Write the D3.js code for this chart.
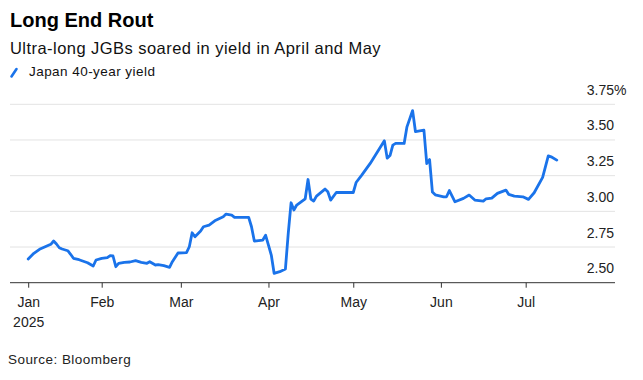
<!DOCTYPE html>
<html>
<head>
<meta charset="utf-8">
<script src="https://cdn.jsdelivr.net/npm/d3@7"></script>
<style>
  html, body { margin: 0; padding: 0; background: #fff; }
  svg { display: block; font-family: "Liberation Sans", Arial, sans-serif; }
</style>
</head>
<body>
<svg id="chart" width="643" height="380"></svg>
<script>
// ---- Data ----
const dates = [
  "2025-01-06","2025-01-08","2025-01-10","2025-01-12","2025-01-14","2025-01-15","2025-01-16","2025-01-17",
  "2025-01-18","2025-01-20","2025-01-21","2025-01-22","2025-01-24","2025-01-25","2025-01-27","2025-01-29",
  "2025-01-30","2025-02-01","2025-02-03","2025-02-04","2025-02-05","2025-02-06","2025-02-07","2025-02-09",
  "2025-02-11","2025-02-13","2025-02-15","2025-02-17","2025-02-18","2025-02-20","2025-02-21","2025-02-23",
  "2025-02-25","2025-02-26","2025-02-28","2025-03-03","2025-03-04","2025-03-05","2025-03-06","2025-03-08",
  "2025-03-09","2025-03-11","2025-03-13","2025-03-16","2025-03-17","2025-03-19","2025-03-20","2025-03-25",
  "2025-03-26","2025-03-27","2025-03-30","2025-03-31","2025-04-01","2025-04-02","2025-04-03","2025-04-05",
  "2025-04-07","2025-04-08","2025-04-09","2025-04-10","2025-04-11","2025-04-14","2025-04-15","2025-04-16",
  "2025-04-17","2025-04-18","2025-04-21","2025-04-22","2025-04-23","2025-04-25","2025-05-01","2025-05-02",
  "2025-05-04","2025-05-07","2025-05-12","2025-05-13","2025-05-14","2025-05-15","2025-05-16","2025-05-19",
  "2025-05-20","2025-05-22","2025-05-23","2025-05-26","2025-05-27","2025-05-28","2025-05-29","2025-05-30",
  "2025-06-02","2025-06-03","2025-06-04","2025-06-06","2025-06-09","2025-06-11","2025-06-13","2025-06-16",
  "2025-06-17","2025-06-19","2025-06-21","2025-06-24","2025-06-25","2025-06-27","2025-06-30","2025-07-02",
  "2025-07-04","2025-07-07","2025-07-09","2025-07-10","2025-07-12"
];
const yields = [
  2.666,2.706,2.734,2.752,2.769,2.792,2.771,2.745,
  2.736,2.724,2.699,2.671,2.661,2.654,2.640,2.617,
  2.659,2.671,2.675,2.689,2.687,2.612,2.636,2.643,
  2.645,2.654,2.643,2.636,2.647,2.624,2.626,2.619,
  2.608,2.647,2.708,2.711,2.752,2.850,2.822,2.862,
  2.892,2.904,2.934,2.962,2.981,2.974,2.958,2.958,
  2.892,2.792,2.799,2.832,2.764,2.694,2.566,2.577,
  2.596,2.846,3.060,3.009,3.044,3.088,3.223,3.086,
  3.072,3.107,3.156,3.137,3.079,3.132,3.132,3.202,
  3.254,3.336,3.494,3.373,3.391,3.464,3.476,3.476,
  3.592,3.706,3.559,3.569,3.335,3.363,3.135,3.116,
  3.102,3.102,3.146,3.067,3.091,3.114,3.079,3.072,
  3.088,3.093,3.126,3.149,3.119,3.107,3.102,3.084,
  3.130,3.238,3.389,3.382,3.359
];
const yTicks = [2.50, 2.75, 3.00, 3.25, 3.50, 3.75];
const xTickDates = ["2025-01-06","2025-02-01","2025-03-01","2025-04-01","2025-05-01","2025-06-01","2025-07-01"];
const xTickLabels = ["Jan","Feb","Mar","Apr","May","Jun","Jul"];
const xDomain = ["2025-01-01","2025-08-01"];
const seriesName = "Japan 40-year yield";
const title = "Long End Rout";
const subtitle = "Ultra-long JGBs soared in yield in April and May";
const source = "Source: Bloomberg";

// ---- Chart ----
const parse = d3.timeParse("%Y-%m-%d");
const data = dates.map((d, i) => ({ date: parse(d), value: yields[i] }));

const svg = d3.select("#chart");
const BLUE = "#1a73ea";
const plotLeft = 10, plotRight = 615;

const x = d3.scaleTime().domain(xDomain.map(parse)).range([14.07, 613.3]);
const y = d3.scaleLinear().domain([2.5, 3.75]).range([282.7, 104.3]);

// Title, subtitle
svg.append("text").attr("x", 10).attr("y", 27)
  .attr("font-size", 20).attr("font-weight", "bold").attr("fill", "#000").text(title);
svg.append("text").attr("x", 10).attr("y", 53.5)
  .attr("font-size", 16.5).attr("letter-spacing", 0.45).attr("fill", "#111").text(subtitle);

// Legend
svg.append("line").attr("x1", 11.5).attr("y1", 76.5).attr("x2", 16.5).attr("y2", 69)
  .attr("stroke", BLUE).attr("stroke-width", 2.6).attr("stroke-linecap", "round");
svg.append("text").attr("x", 29).attr("y", 76)
  .attr("font-size", 13.5).attr("letter-spacing", 0.45).attr("fill", "#111").text(seriesName);

// Gridlines
const grid = svg.append("g");
grid.selectAll("line").data(yTicks.filter(t => t > 2.5)).join("line")
  .attr("x1", plotLeft).attr("x2", plotRight)
  .attr("y1", d => y(d)).attr("y2", d => y(d))
  .attr("stroke", "#e3e3e3").attr("stroke-width", 1);

// Y labels
const yl = svg.append("g").attr("font-size", 14).attr("fill", "#222");
yl.selectAll("text").data(yTicks).join("text")
  .attr("x", 614).attr("y", d => y(d) - 9.5)
  .attr("text-anchor", "end")
  .text(d => d.toFixed(2));
svg.append("text").attr("x", 614).attr("y", y(3.75) - 9.5)
  .attr("font-size", 14).attr("fill", "#222").text("%");

// X axis
const xAxis = d3.axisBottom(x)
  .tickValues(xTickDates.map(parse))
  .tickSize(5)
  .tickFormat((d, i) => xTickLabels[i]);
const gx = svg.append("g").attr("transform", `translate(0,${y(2.5)})`).call(xAxis);
gx.select(".domain").remove();
gx.selectAll(".tick line").attr("stroke", "#333");
gx.selectAll(".tick text").attr("font-size", 14).attr("fill", "#222")
  .attr("font-family", "Liberation Sans, Arial, sans-serif").attr("dy", null).attr("y", 24);
gx.append("line").attr("x1", plotLeft).attr("x2", plotRight).attr("y1", 0).attr("y2", 0)
  .attr("stroke", "#333").attr("stroke-width", 1);
gx.select(".tick text").append("tspan").attr("x", 0).attr("dy", 20).text("2025");

// Line
svg.append("path").datum(data)
  .attr("fill", "none").attr("stroke", BLUE).attr("stroke-width", 2.8)
  .attr("stroke-linejoin", "round").attr("stroke-linecap", "round")
  .attr("d", d3.line().x(d => x(d.date)).y(d => y(d.value)));

// Source
svg.append("text").attr("x", 8).attr("y", 364)
  .attr("font-size", 13.5).attr("letter-spacing", 0.45).attr("fill", "#222").text(source);
</script>
</body>
</html>
